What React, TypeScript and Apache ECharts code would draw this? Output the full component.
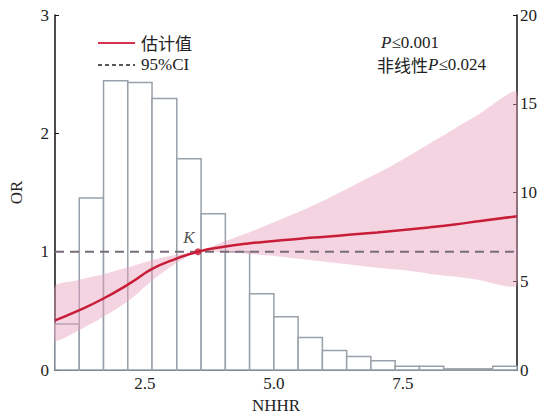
import React, { useEffect, useRef } from "react";
import * as echarts from "echarts";

// Histogram (right axis, %)
const binEdges = [0.76, 1.23, 1.7, 2.17, 2.64, 3.12, 3.59, 4.06, 4.53, 5.0, 5.47, 5.94, 6.41, 6.88, 7.35, 7.82, 8.29, 8.76, 9.24, 9.71];
const binHeights = [2.6, 9.7, 16.3, 16.2, 15.3, 11.9, 8.8, 6.67, 4.3, 3.0, 1.83, 1.1, 0.77, 0.52, 0.21, 0.21, 0.07, 0.07, 0.21];

// Spline OR curve and 95% CI (left axis)
const curveX = [0.76, 1.2, 1.7, 2.2, 2.65, 3.1, 3.53, 4.0, 4.5, 5.0, 5.5, 6.0, 6.5, 7.0, 7.5, 8.0, 8.5, 9.0, 9.71];
const orValues = [0.42, 0.5, 0.605, 0.73, 0.857, 0.94, 1.0, 1.04, 1.07, 1.09, 1.11, 1.127, 1.145, 1.163, 1.183, 1.205, 1.23, 1.26, 1.3];
const ciLower = [0.25, 0.33, 0.45, 0.59, 0.76, 0.9, 1.0, 0.995, 0.98, 0.965, 0.94, 0.915, 0.89, 0.865, 0.845, 0.815, 0.79, 0.76, 0.72];
const ciUpper = [0.71, 0.76, 0.81, 0.87, 0.93, 0.975, 1.0, 1.08, 1.16, 1.25, 1.34, 1.44, 1.55, 1.66, 1.78, 1.91, 2.04, 2.17, 2.35];

const xTicks = [2.5, 5.0, 7.5];
const kPoint = [3.53, 1.0];
const refLine = [[0.76, 1], [9.71, 1]];

const SERIF = '"Liberation Serif", "Noto Sans CJK SC", serif';
const CJK = '"Noto Sans CJK SC", sans-serif';

export default function App() {
  const ref = useRef<HTMLDivElement>(null);
  useEffect(() => {
    if (!ref.current) return;
    const chart = echarts.init(ref.current, null, { renderer: "svg" });
    const histData = binHeights.map((h, i) => [binEdges[i], binEdges[i + 1], h]);
    const bandData = curveX.map((x, i) => [x, ciLower[i], ciUpper[i]]);
    const lineData = curveX.map((x, i) => [x, orValues[i]]);
    const axisText = { fontFamily: SERIF, fontSize: 17, color: "#222" };
    chart.setOption({
      animation: false,
      backgroundColor: "#fff",
      grid: { left: 52, right: 23, top: 15, bottom: 46 },
      xAxis: {
        type: "value",
        min: 0.76,
        max: 9.71,
        name: "NHHR",
        nameLocation: "middle",
        nameGap: 26,
        nameTextStyle: { ...axisText, fontSize: 17, padding: [0, 20, 0, 0] },
        axisLine: { show: true, onZero: false, lineStyle: { color: "#111", width: 1.5 } },
        axisTick: { show: true, inside: true, length: 4, customValues: xTicks, lineStyle: { color: "#111" } },
        axisLabel: { ...axisText, margin: 5, customValues: xTicks, formatter: (v: number) => v.toFixed(1) },
        splitLine: { show: false },
      },
      yAxis: [
        {
          type: "value",
          min: 0,
          max: 3,
          interval: 1,
          position: "left",
          name: "OR",
          nameLocation: "middle",
          nameGap: 30,
          nameTextStyle: { ...axisText, fontSize: 17 },
          axisLine: { show: true, lineStyle: { color: "#111", width: 1.5 } },
          axisTick: { show: true, inside: true, length: 4, lineStyle: { color: "#111" } },
          axisLabel: { ...axisText, margin: 6 },
          splitLine: { show: false },
        },
        {
          type: "value",
          min: 0,
          max: 20,
          interval: 5,
          position: "right",
          axisLine: { show: true, lineStyle: { color: "#111", width: 1.5 } },
          axisTick: { show: true, inside: true, length: 4, lineStyle: { color: "#111" } },
          axisLabel: { ...axisText, margin: 3 },
          splitLine: { show: false },
        },
      ],
      series: [
        {
          type: "custom",
          name: "hist",
          yAxisIndex: 1,
          z: 1,
          encode: { x: [0, 1], y: 2 },
          data: histData,
          renderItem: (params: any, api: any) => {
            const p0 = api.coord([api.value(0), api.value(2)]);
            const p1 = api.coord([api.value(1), 0]);
            return {
              type: "rect",
              shape: { x: p0[0], y: p0[1], width: p1[0] - p0[0], height: p1[1] - p0[1] },
              style: { fill: "#fff", stroke: "#98a1aa", lineWidth: 1.5 },
            };
          },
        },
        {
          type: "custom",
          name: "95%CI",
          z: 2,
          clip: true,
          encode: { x: 0, y: [1, 2] },
          data: bandData,
          renderItem: (params: any, api: any) => {
            if (params.dataIndex !== 0) return null;
            const lower = bandData.map((d) => api.coord([d[0], d[1]]));
            const upper = bandData.map((d) => api.coord([d[0], d[2]])).reverse();
            return {
              type: "polygon",
              shape: { points: lower.concat(upper), smooth: 0.2 },
              style: { fill: "rgba(232,160,188,0.45)", stroke: "none" },
            };
          },
        },
        {
          type: "line",
          name: "ref",
          data: refLine,
          symbol: "none",
          z: 3,
          lineStyle: { color: "#776d7a", width: 2, type: [9, 6] },
        },
        {
          type: "line",
          name: "估计值",
          data: lineData,
          smooth: true,
          symbol: "none",
          z: 4,
          lineStyle: { color: "#c81d38", width: 2.5 },
        },
        {
          type: "scatter",
          name: "K",
          data: [kPoint],
          symbolSize: 7,
          z: 5,
          itemStyle: { color: "#c81d38" },
          label: {
            show: true,
            formatter: "K",
            position: "top",
            offset: [-9, 3],
            fontFamily: SERIF,
            fontStyle: "italic",
            fontSize: 17,
            color: "#222",
          },
        },
      ],
      graphic: [
        { type: "line", shape: { x1: 98, y1: 43, x2: 135, y2: 43 }, style: { stroke: "#d5304f", lineWidth: 1.8 } },
        { type: "text", x: 141, y: 42, style: { text: "估计值", fontFamily: CJK, fontSize: 17, lineHeight: 18, fill: "#222", verticalAlign: "middle" } },
        { type: "line", shape: { x1: 98, y1: 65, x2: 135, y2: 65 }, style: { stroke: "#222", lineWidth: 1.5, lineDash: [4, 3] } },
        { type: "text", x: 141, y: 64, style: { text: "95%CI", fontFamily: SERIF, fontSize: 17, lineHeight: 18, fill: "#222", verticalAlign: "middle" } },
        {
          type: "text",
          x: 381,
          y: 42,
          style: {
            text: "{i|P}{n|≤0.001}",
            verticalAlign: "middle",
            rich: {
              i: { fontFamily: SERIF, fontStyle: "italic", fontSize: 17, lineHeight: 18, fill: "#222" },
              n: { fontFamily: SERIF, fontSize: 17, lineHeight: 18, fill: "#222" },
            },
          },
        },
        {
          type: "text",
          x: 377,
          y: 64,
          style: {
            text: "{c|非线性}{i|P}{n|≤0.024}",
            verticalAlign: "middle",
            rich: {
              c: { fontFamily: CJK, fontSize: 17, lineHeight: 18, fill: "#222" },
              i: { fontFamily: SERIF, fontStyle: "italic", fontSize: 17, lineHeight: 18, fill: "#222" },
              n: { fontFamily: SERIF, fontSize: 17, lineHeight: 18, fill: "#222" },
            },
          },
        },
      ],
    });
    return () => chart.dispose();
  }, []);
  return <div ref={ref} style={{ position: "fixed", left: 0, top: 0, width: 540, height: 419 }} />;
}
